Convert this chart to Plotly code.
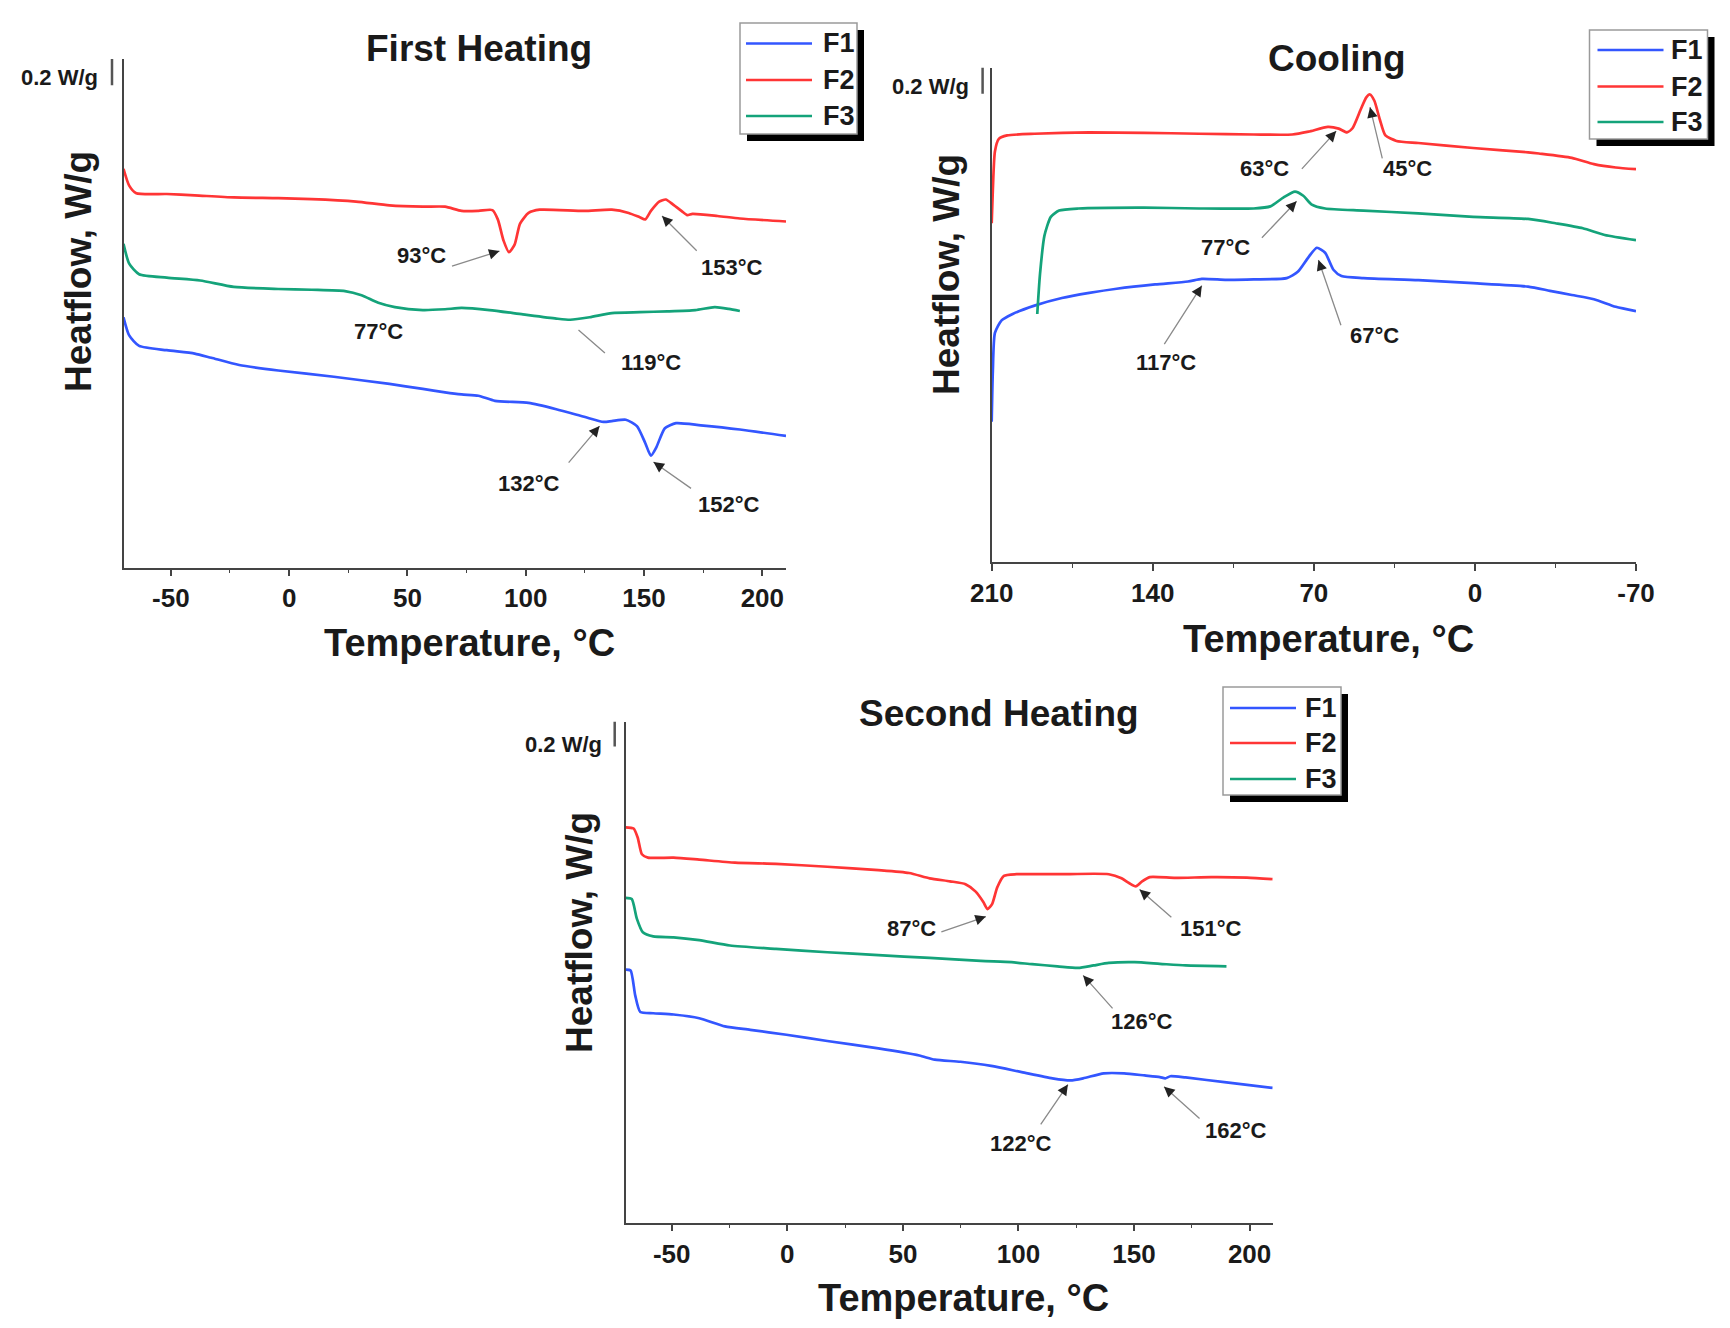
import plotly.graph_objects as go

# DSC curves of F1/F2/F3, heat flow (W/g, stacked offsets)
# first heating
fh_f1_t = [-70, -67.6, -63.4, -51.7, -39.9, -32.9, -21.1, -4.6, 18.9, 42.4, 56.5, 65.9, 72.9, 80.0, 87.0,
           101.2, 112.9, 124.7, 132.9, 136.4, 142.3, 147.0, 150.5, 152.9, 155.2, 158.8, 163.5, 174.0, 190.5, 210]
fh_f1_w = [1.913, 1.774, 1.694, 1.661, 1.635, 1.603, 1.548, 1.506, 1.458, 1.403, 1.365, 1.339, 1.323, 1.313, 1.274,
           1.258, 1.210, 1.152, 1.113, 1.119, 1.129, 1.081, 0.952, 0.855, 0.919, 1.065, 1.103, 1.087, 1.055, 1.006]
fh_f2_t = [-70, -67.6, -64.6, -51.7, -39.9, -23.4, -4.6, 9.5, 28.3, 42.4, 56.5, 65.9, 72.9, 80.0, 85.9, 88.2,
           90.6, 92.9, 95.3, 97.6, 101.2, 105.9, 124.7, 136.4, 143.5, 148.2, 150.5, 152.9, 156.4, 159.2, 162.3,
           165.8, 168.2, 170.5, 181.1, 190.5, 210]
fh_f2_w = [3.048, 2.919, 2.861, 2.855, 2.845, 2.829, 2.823, 2.816, 2.797, 2.768, 2.758, 2.758, 2.726, 2.726, 2.732,
           2.661, 2.500, 2.410, 2.468, 2.629, 2.710, 2.735, 2.726, 2.735, 2.710, 2.677, 2.661, 2.726, 2.797, 2.813,
           2.774, 2.726, 2.694, 2.703, 2.687, 2.668, 2.645]
fh_f3_t = [-70, -67.6, -63.4, -51.7, -37.6, -23.4, -4.6, 9.5, 23.6, 30.6, 37.7, 44.7, 56.5, 65.9, 72.9, 84.7,
           98.8, 112.9, 118.8, 127.0, 136.4, 148.2, 159.9, 171.7, 179.9, 185.8, 190.5]
fh_f3_w = [2.474, 2.323, 2.242, 2.216, 2.194, 2.145, 2.129, 2.123, 2.113, 2.081, 2.023, 1.990, 1.968, 1.974, 1.984,
           1.968, 1.935, 1.903, 1.894, 1.913, 1.945, 1.952, 1.958, 1.968, 1.990, 1.977, 1.961]

# cooling (210 -> -70)
co_f1_t = [210, 209.5, 208.6, 205.7, 200.9, 191.4, 179.5, 167.6, 155.7, 139.0, 124.7, 118.7, 108.0, 96.1, 81.8,
           77.0, 72.3, 68.7, 65.1, 61.5, 58.0, 48.4, 24.6, 0.8, -23.1, -32.6, -42.1, -51.7, -61.2, -70]
co_f1_w = [1.074, 1.461, 1.752, 1.848, 1.897, 1.961, 2.019, 2.058, 2.090, 2.123, 2.145, 2.165, 2.158, 2.161, 2.171,
           2.219, 2.332, 2.403, 2.365, 2.235, 2.187, 2.171, 2.155, 2.132, 2.106, 2.074, 2.042, 2.010, 1.952, 1.919]
co_f2_t = [210, 209.5, 208.6, 206.9, 203.3, 191.4, 167.6, 143.8, 119.9, 96.1, 79.4, 72.3, 63.9, 59.2, 55.6,
           53.2, 49.6, 47.2, 45.6, 43.7, 41.3, 38.9, 34.1, 24.6, 0.8, -23.1, -27.8, -42.1, -51.7, -61.2, -70]
co_f2_w = [2.590, 2.848, 3.139, 3.235, 3.261, 3.274, 3.284, 3.281, 3.274, 3.268, 3.268, 3.290, 3.326, 3.313, 3.284,
           3.316, 3.461, 3.552, 3.574, 3.526, 3.381, 3.261, 3.219, 3.203, 3.165, 3.132, 3.123, 3.090, 3.042, 3.016,
           3.003]
co_f3_t = [190.2, 189.0, 187.1, 184.3, 180.7, 172.3, 143.8, 119.9, 96.1, 88.9, 83.0, 78.2, 74.6, 71.1, 65.1,
           48.4, 24.6, 0.8, -23.1, -35.0, -46.9, -56.4, -70]
co_f3_w = [1.897, 2.203, 2.494, 2.639, 2.687, 2.703, 2.710, 2.703, 2.703, 2.719, 2.790, 2.832, 2.800, 2.735, 2.703,
           2.687, 2.665, 2.639, 2.623, 2.590, 2.552, 2.500, 2.461]

# second heating
sh_f1_t = [-70, -67.8, -65.8, -63.6, -58.0, -49.2, -38.1, -27.0, -16.0, -0.4, 17.3, 39.4, 57.1, 63.8, 74.9,
           88.2, 101.4, 114.7, 122.5, 128.0, 136.9, 145.7, 154.6, 161.2, 163.5, 165.7, 172.3, 190.0, 210]
sh_f1_w = [2.033, 2.027, 1.827, 1.693, 1.683, 1.673, 1.643, 1.577, 1.550, 1.510, 1.460, 1.400, 1.343, 1.310, 1.293,
           1.260, 1.210, 1.160, 1.143, 1.160, 1.200, 1.200, 1.183, 1.170, 1.160, 1.177, 1.167, 1.127, 1.083]
sh_f2_t = [-70, -66.5, -64.7, -62.9, -60.3, -49.2, -38.1, -22.6, -4.9, 17.3, 39.4, 52.7, 61.6, 70.4, 77.1,
           81.5, 84.8, 86.6, 88.6, 90.8, 93.7, 99.2, 116.9, 139.1, 144.6, 148.0, 150.8, 153.5, 156.8, 167.9,
           183.4, 198.9, 210]
sh_f2_w = [3.177, 3.167, 3.093, 2.960, 2.933, 2.933, 2.917, 2.893, 2.883, 2.860, 2.833, 2.810, 2.767, 2.743, 2.720,
           2.660, 2.577, 2.520, 2.560, 2.693, 2.787, 2.800, 2.800, 2.800, 2.767, 2.727, 2.703, 2.743, 2.777, 2.770,
           2.777, 2.773, 2.760]
sh_f3_t = [-70, -67.3, -65.1, -62.5, -58.0, -49.2, -38.1, -24.8, -4.9, 17.3, 39.4, 61.6, 83.7, 97.0, 105.9,
           116.9, 125.8, 132.5, 139.1, 150.2, 161.2, 172.3, 190.0]
sh_f3_w = [2.610, 2.600, 2.443, 2.333, 2.300, 2.293, 2.270, 2.227, 2.200, 2.173, 2.150, 2.127, 2.103, 2.093, 2.077,
           2.060, 2.047, 2.067, 2.087, 2.093, 2.080, 2.067, 2.060]

# tick labels (plain hyphen as in the original)
heat_ticks = [-50, 0, 50, 100, 150, 200]
heat_ticktext = ["-50", "0", "50", "100", "150", "200"]
cool_ticks = [210, 140, 70, 0, -70]
cool_ticktext = ["210", "140", "70", "0", "-70"]

samples = ["F1", "F2", "F3"]
colors = {"F1": "#3356ff", "F2": "#ff3535", "F3": "#14a37a"}

W, H = 1730, 1328
OFF = 8
FONT = "Liberation Sans, Arial, sans-serif"
INK = "#1a1a1a"
AX = "#444444"


def fx(p):
    return (p - OFF) / W


def fy(p):
    return 1 - (p - OFF) / H


fig = go.Figure()

panels = [
    ("", {"F1": (fh_f1_t, fh_f1_w), "F2": (fh_f2_t, fh_f2_w), "F3": (fh_f3_t, fh_f3_w)}),
    ("2", {"F1": (co_f1_t, co_f1_w), "F2": (co_f2_t, co_f2_w), "F3": (co_f3_t, co_f3_w)}),
    ("3", {"F1": (sh_f1_t, sh_f1_w), "F2": (sh_f2_t, sh_f2_w), "F3": (sh_f3_t, sh_f3_w)}),
]
for ax, curves in panels:
    for s in samples:
        t, w = curves[s]
        fig.add_trace(go.Scatter(x=t, y=w, mode="lines", name=s, showlegend=False,
                                 line=dict(color=colors[s], width=2.7, shape="spline", smoothing=0.6),
                                 xaxis="x" + ax, yaxis="y" + ax))

tickfont = dict(family=FONT, size=26, color=INK, weight="bold")


def xaxis(dom, rng, vals, text, mdtick, anchor):
    return dict(domain=[fx(dom[0]), fx(dom[1])], range=rng, anchor=anchor, automargin=False,
                showline=True, linecolor=AX, linewidth=1.5, mirror=False,
                ticks="outside", ticklen=7, tickwidth=1.5, tickcolor=AX,
                tickmode="array", tickvals=vals, ticktext=text,
                minor=dict(ticks="outside", ticklen=4, tickwidth=1.2, tickcolor=AX, tick0=0, dtick=mdtick),
                showgrid=False, zeroline=False, tickfont=tickfont, ticklabelstandoff=0)


def yaxis(dom, top, anchor):
    return dict(domain=[fy(dom[1]), fy(dom[0])], range=[0, top], anchor=anchor, automargin=False,
                showline=True, linecolor=AX, linewidth=1.5, ticks="", showticklabels=False,
                showgrid=False, zeroline=False)


# panel frames in pixels: (x0, x1), (ytop, ybottom)
fig.update_layout(
    xaxis=xaxis((123.5, 786), [-70, 210], heat_ticks, heat_ticktext, 25, "y"),
    yaxis=yaxis((59, 567.5), 3.887, "x"),
    xaxis2=xaxis((991.7, 1636), [210, -70], cool_ticks, cool_ticktext, 35, "y2"),
    yaxis2=yaxis((67.5, 562.3), 3.78, "x2"),
    xaxis3=xaxis((625.5, 1272.7), [-70, 210], heat_ticks, heat_ticktext, 25, "y3"),
    yaxis3=yaxis((721.5, 1222.7), 4.027, "x3"),
)

ann = []
shapes = []


def txt(x, y, s, size, **kw):
    d = dict(x=x, y=y, text=s, showarrow=False, xanchor="center", yanchor="middle",
             font=dict(family=FONT, size=size, color=INK, weight="bold"))
    d.update(kw)
    return d


# titles and axis labels
for title, (tx, ty), (yx, yy), (xx, xy) in [
    ("First Heating", (479, 48.5), (78, 272), (470, 643)),
    ("Cooling", (1337, 58), (947, 275), (1328.5, 639)),
    ("Second Heating", (999, 713), (579, 933), (963, 1298)),
]:
    ann.append(txt(fx(tx), fy(ty), title, 37, xref="paper", yref="paper"))
    ann.append(txt(fx(yx), fy(yy), "Heatflow, W/g", 37, xref="paper", yref="paper", textangle=-90))
    ann.append(txt(fx(xx), fy(xy), "Temperature, °C", 38, xref="paper", yref="paper"))

# 0.2 W/g scale bars
for (lx, ly), bx, yref, top in [((59, 78), 112, "y", 3.887), ((930, 86.5), 982.6, "y2", 3.78),
                                 ((563, 744), 614.7, "y3", 4.027)]:
    ann.append(txt(fx(lx), fy(ly), "0.2 W/g", 22, xref="paper", yref="paper"))
    shapes.append(dict(type="line", xref="paper", yref=yref, x0=fx(bx), x1=fx(bx), y0=top - 0.2, y1=top,
                       line=dict(color="#555555", width=2.5)))

# peak labels: (text, text pos, arrow tail, arrow head) in data units
peak_labels = {
    "": [("93°C", (55.8, 2.387), (68.2, 2.300), (88.9, 2.419)),
         ("153°C", (187.0, 2.290), (172.9, 2.410), (157.6, 2.687)),
         ("77°C", (37.7, 1.806), None, None),
         ("119°C", (152.9, 1.565), (134.1, 1.629), (122.3, 1.816)),
         ("132°C", (101.2, 0.645), (117.6, 0.790), (131.2, 1.081)),
         ("152°C", (185.8, 0.484), (170.5, 0.597), (154.0, 0.806))],
    "2": [("63°C", (91.3, 3.010), (75.8, 2.994), (60.3, 3.294)),
          ("45°C", (29.4, 3.010), (40.1, 3.074), (45.6, 3.477)),
          ("77°C", (108.5, 2.403), (93.2, 2.468), (77.5, 2.758)),
          ("67°C", (43.7, 1.735), (58.0, 1.800), (68.0, 2.310)),
          ("117°C", (134.2, 1.526), (135.4, 1.655), (118.7, 2.113))],
    "3": [("87°C", (53.8, 2.367), (66.0, 2.333), (85.9, 2.460)),
          ("151°C", (183.4, 2.367), (166.8, 2.443), (152.4, 2.677)),
          ("126°C", (153.5, 1.620), (141.3, 1.710), (128.0, 1.987)),
          ("122°C", (101.0, 0.633), (109.2, 0.777), (121.4, 1.110)),
          ("162°C", (194.0, 0.743), (179.0, 0.827), (163.0, 1.093))],
}
for ax, items in peak_labels.items():
    refs = dict(xref="x" + ax, yref="y" + ax, axref="x" + ax, ayref="y" + ax)
    for label, (lt, lw), tail, head in items:
        ann.append(txt(lt, lw, label, 22, xref="x" + ax, yref="y" + ax))
        if tail:
            # grey shaft, then a short dark piece carrying the arrow head
            ann.append(dict(x=head[0], y=head[1], ax=tail[0], ay=tail[1], text="", showarrow=True,
                            arrowhead=0, arrowwidth=1.3, arrowcolor="#8a8a8a", standoff=0, **refs))
            nx = head[0] + 0.12 * (tail[0] - head[0])
            ny = head[1] + 0.12 * (tail[1] - head[1])
            ann.append(dict(x=head[0], y=head[1], ax=nx, ay=ny, text="", showarrow=True,
                            arrowhead=2, arrowsize=1.5, arrowwidth=1.4, arrowcolor="#222222",
                            standoff=0, **refs))

# legend boxes with drop shadow: box (x0, x1, y0, y1), entry rows, line x-range, text x
for (x0, x1, y0, y1), rows, (lx0, lx1), tx in [
    ((740, 857, 23, 134), (43.5, 80, 116), (746, 812), 821),
    ((1589.5, 1707.5, 30, 139), (50, 86.5, 122), (1597.5, 1663.5), 1669),
    ((1223, 1341, 687, 795), (708, 743, 779), (1230, 1296), 1303),
]:
    shapes.append(dict(type="rect", xref="paper", yref="paper", x0=fx(x0 + 7), x1=fx(x1 + 7),
                       y0=fy(y0 + 7), y1=fy(y1 + 7), fillcolor="black", line=dict(width=0)))
    shapes.append(dict(type="rect", xref="paper", yref="paper", x0=fx(x0), x1=fx(x1), y0=fy(y0), y1=fy(y1),
                       fillcolor="white", line=dict(color="#9a9a9a", width=1.5)))
    for s, ry in zip(samples, rows):
        shapes.append(dict(type="line", xref="paper", yref="paper", x0=fx(lx0), x1=fx(lx1), y0=fy(ry), y1=fy(ry),
                           line=dict(color=colors[s], width=2.7)))
        ann.append(txt(fx(tx), fy(ry), s, 27, xref="paper", yref="paper", xanchor="left"))

fig.update_layout(
    width=W, height=H, autosize=False,
    margin=dict(l=0, r=0, t=0, b=0, pad=0, autoexpand=False),
    paper_bgcolor="white", plot_bgcolor="white",
    showlegend=False,
    annotations=ann, shapes=shapes,
)

fig.write_html("out.html")
